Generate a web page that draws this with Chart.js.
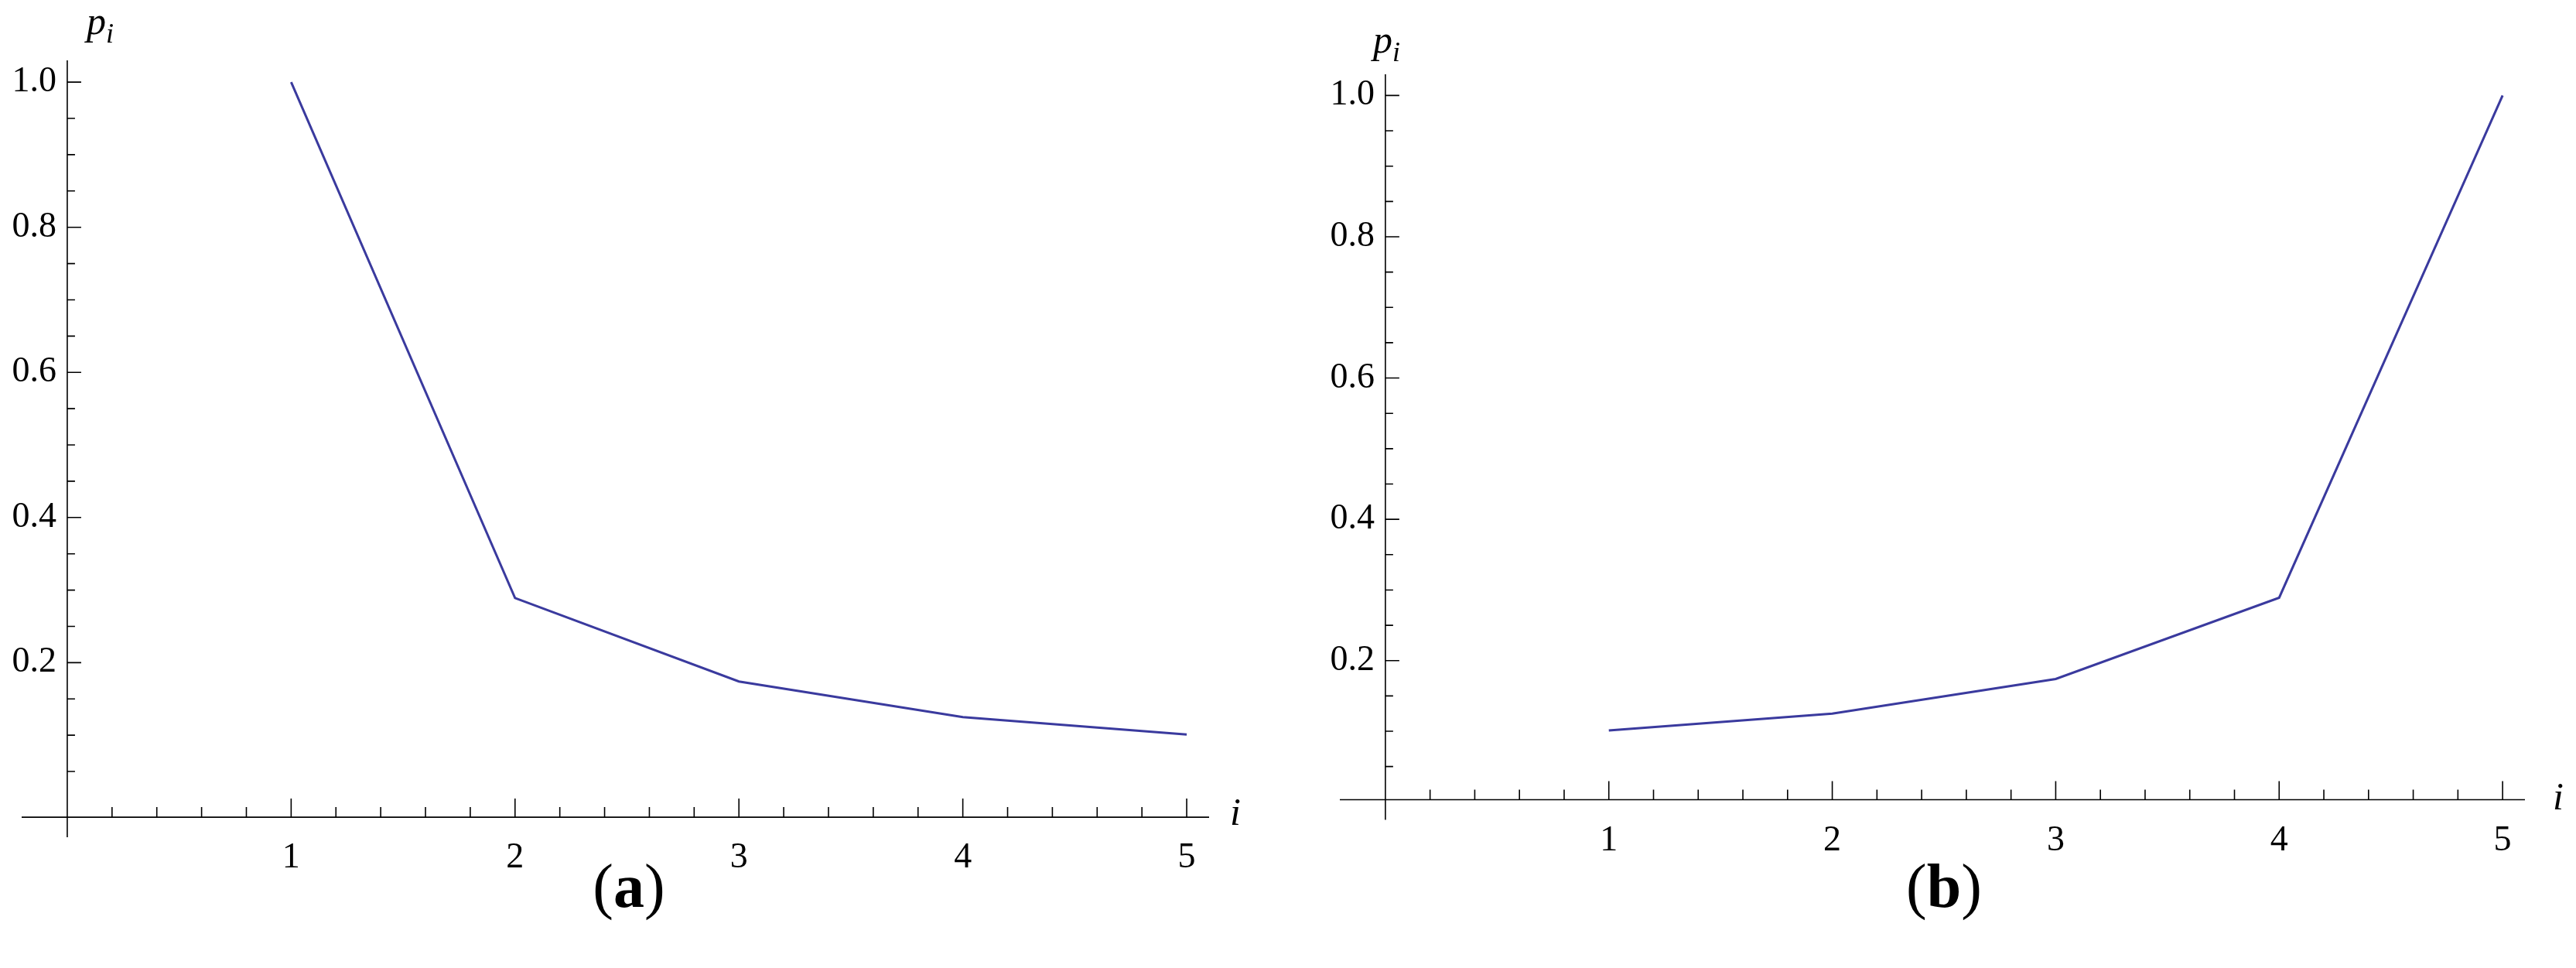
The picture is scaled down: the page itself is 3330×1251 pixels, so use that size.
<!DOCTYPE html>
<html>
<head>
<meta charset="utf-8">
<script src="https://cdn.jsdelivr.net/npm/chart.js@4/dist/chart.umd.min.js"></script>
<style>
  body { margin: 0; background: #fff; width: 3330px; height: 1251px; position: relative; overflow: hidden; }
  .panel { position: absolute; top: 0; width: 1665px; height: 1251px; }
  .cap { position: absolute; font-family: "Liberation Serif", serif; font-size: 80px; transform: translateX(-50%); }
  .lab { position: absolute; font-family: "Liberation Serif", serif; font-style: italic; font-size: 50px; }
  .lab sub { font-size: 36px; }
</style>
</head>
<body>
<div class="panel" style="left:0"><canvas id="chartA"></canvas></div>
<div class="panel" style="left:1665px"><canvas id="chartB"></canvas></div>
<div class="lab" style="left:112px;top:-2px">p<sub>i</sub></div>
<div class="lab" style="left:1775px;top:22px">p<sub>i</sub></div>
<div class="lab" style="left:1590px;top:1020px">i</div>
<div class="lab" style="left:3300px;top:1000px">i</div>
<div class="cap" style="left:813px;top:1100px">(<b>a</b>)</div>
<div class="cap" style="left:2513px;top:1100px">(<b>b</b>)</div>
<script>
const indices = [1, 2, 3, 4, 5];
const probsA = [1.0, 0.289, 0.174, 0.125, 0.101];
const probsB = [0.101, 0.125, 0.174, 0.289, 1.0];
const xTickLabels = ["1", "2", "3", "4", "5"];
const yTickLabels = ["0.2", "0.4", "0.6", "0.8", "1.0"];

// draws Mathematica-style axes through the origin
const axesPlugin = {
  id: "axes",
  afterDatasetsDraw(chart, args, opts) {
    const ctx = chart.ctx, xs = chart.scales.x, ys = chart.scales.y;
    const x0 = xs.getPixelForValue(0), y0 = ys.getPixelForValue(opts.axisY);
    ctx.save();
    ctx.strokeStyle = "#000";
    ctx.lineWidth = 1.6;
    ctx.beginPath();
    ctx.moveTo(xs.left - 30, y0); ctx.lineTo(xs.right, y0);
    ctx.moveTo(x0, ys.top); ctx.lineTo(x0, y0 + 26);
    for (let k = 1; k <= 25; k++) {
      const px = xs.getPixelForValue(k * 0.2);
      const len = k % 5 === 0 ? 24 : 13;
      ctx.moveTo(px, y0); ctx.lineTo(px, y0 - len);
    }
    for (let k = 1; k <= 20; k++) {
      const py = ys.getPixelForValue(k * 0.05);
      const len = k % 4 === 0 ? 18 : 10;
      ctx.moveTo(x0, py); ctx.lineTo(x0 + len, py);
    }
    ctx.stroke();
    ctx.fillStyle = "#000";
    ctx.font = "46px 'Liberation Serif'";
    ctx.textAlign = "center"; ctx.textBaseline = "top";
    xTickLabels.forEach((t, i) => ctx.fillText(t, xs.getPixelForValue(i + 1), y0 + 30));
    ctx.textAlign = "right"; ctx.textBaseline = "middle";
    yTickLabels.forEach((t, i) => ctx.fillText(t, x0 - 14, ys.getPixelForValue((i + 1) * 0.2)));
    ctx.restore();
  }
};

function makeChart(id, values, padding, yMin, axisY) {
  const el = document.getElementById(id);
  el.width = 1665; el.height = 1251;
  new Chart(el, {
    type: "line",
    data: {
      datasets: [{
        data: indices.map((x, i) => ({ x: x, y: values[i] })),
        borderColor: "#3a3a9e",
        borderWidth: 3,
        pointRadius: 0,
        tension: 0
      }]
    },
    options: {
      responsive: false,
      animation: false,
      layout: { padding: padding },
      plugins: { legend: { display: false }, tooltip: { enabled: false }, axes: { axisY: axisY } },
      scales: {
        x: { type: "linear", min: -0.1, max: 5.1, display: false },
        y: { type: "linear", min: yMin, max: 1.03, display: false }
      }
    },
    plugins: [axesPlugin]
  });
}

document.fonts.load("46px 'Liberation Serif'").then(() => {
  makeChart("chartA", probsA, { left: 58, right: 102, top: 78, bottom: 1251 - 1058 }, -0.015, -0.013);
  makeChart("chartB", probsB, { left: 97, right: 66, top: 96, bottom: 1251 - 1050 }, -0.015, 0.003);
});
</script>
</body>
</html>
